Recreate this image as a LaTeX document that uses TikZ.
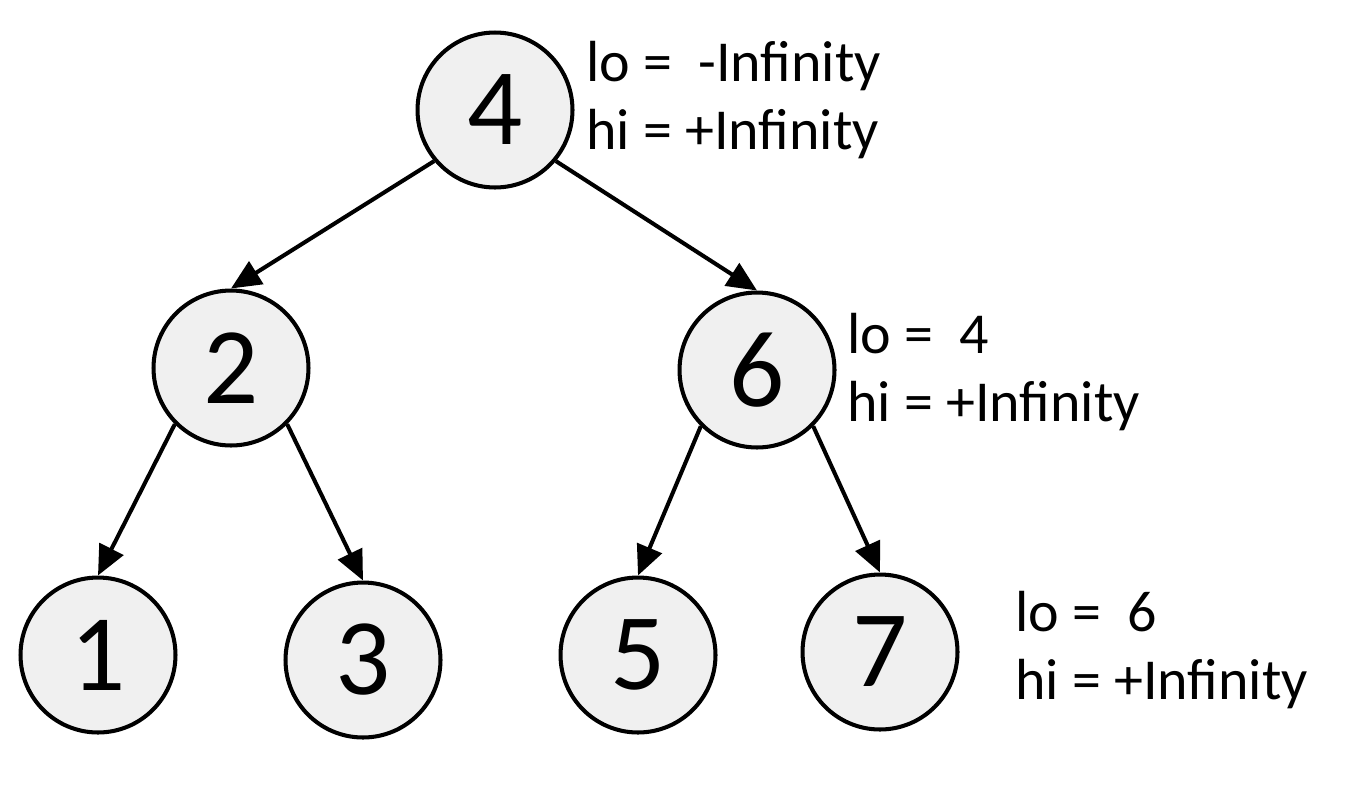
\documentclass[tikz,border=0pt]{standalone}
\usepackage{fontspec}
\setmainfont{Carlito}
\usetikzlibrary{arrows.meta}
\tikzset{
  every node/.style={align=left}
}
\begin{document}
\begin{tikzpicture}[x=0.02cm, y=-0.02cm]
\tikzstyle{key}=[circle, draw, line width=2.3pt, fill=black!6,
  minimum size=3.1cm, inner sep=0pt, font=\fontsize{62}{62}\selectfont]
\tikzstyle{bound}=[anchor=west, inner sep=0pt,
  font=\fontsize{33}{39}\selectfont]
\tikzstyle{link}=[-{Triangle[length=17pt, width=15pt]}, line width=2.3pt]
\useasboundingbox (0,0) rectangle (1354,795);

% tree
\node[key](n4) at (495,110){4};
\node[key](n2) at (231,368){2};
\node[key](n6) at (757,370){6};
\node[key](n1) at (98,655){1};
\node[key](n3) at (363,660){3};
\node[key](n5) at (638,655){5};
\node[key](n7) at (880,652){7};

\draw[link](n4.220) to (n2.north);
\draw[link](n4.-40) to (n6.north);
\draw[link](n2.225) to (n1.north);
\draw[link](n2.-45) to (n3.north);
\draw[link](n6.225) to (n5.north);
\draw[link](n6.-45) to (n7.north);

% bounds
\node[bound](b4) at (586,100){lo =\ \ -Infinity\\hi = +Infinity};
\node[bound](b6) at (847,372){lo =\ \ 4\\hi = +Infinity};
\node[bound](b7) at (1015,650){lo =\ \ 6\\hi = +Infinity};
\end{tikzpicture}
\end{document}
